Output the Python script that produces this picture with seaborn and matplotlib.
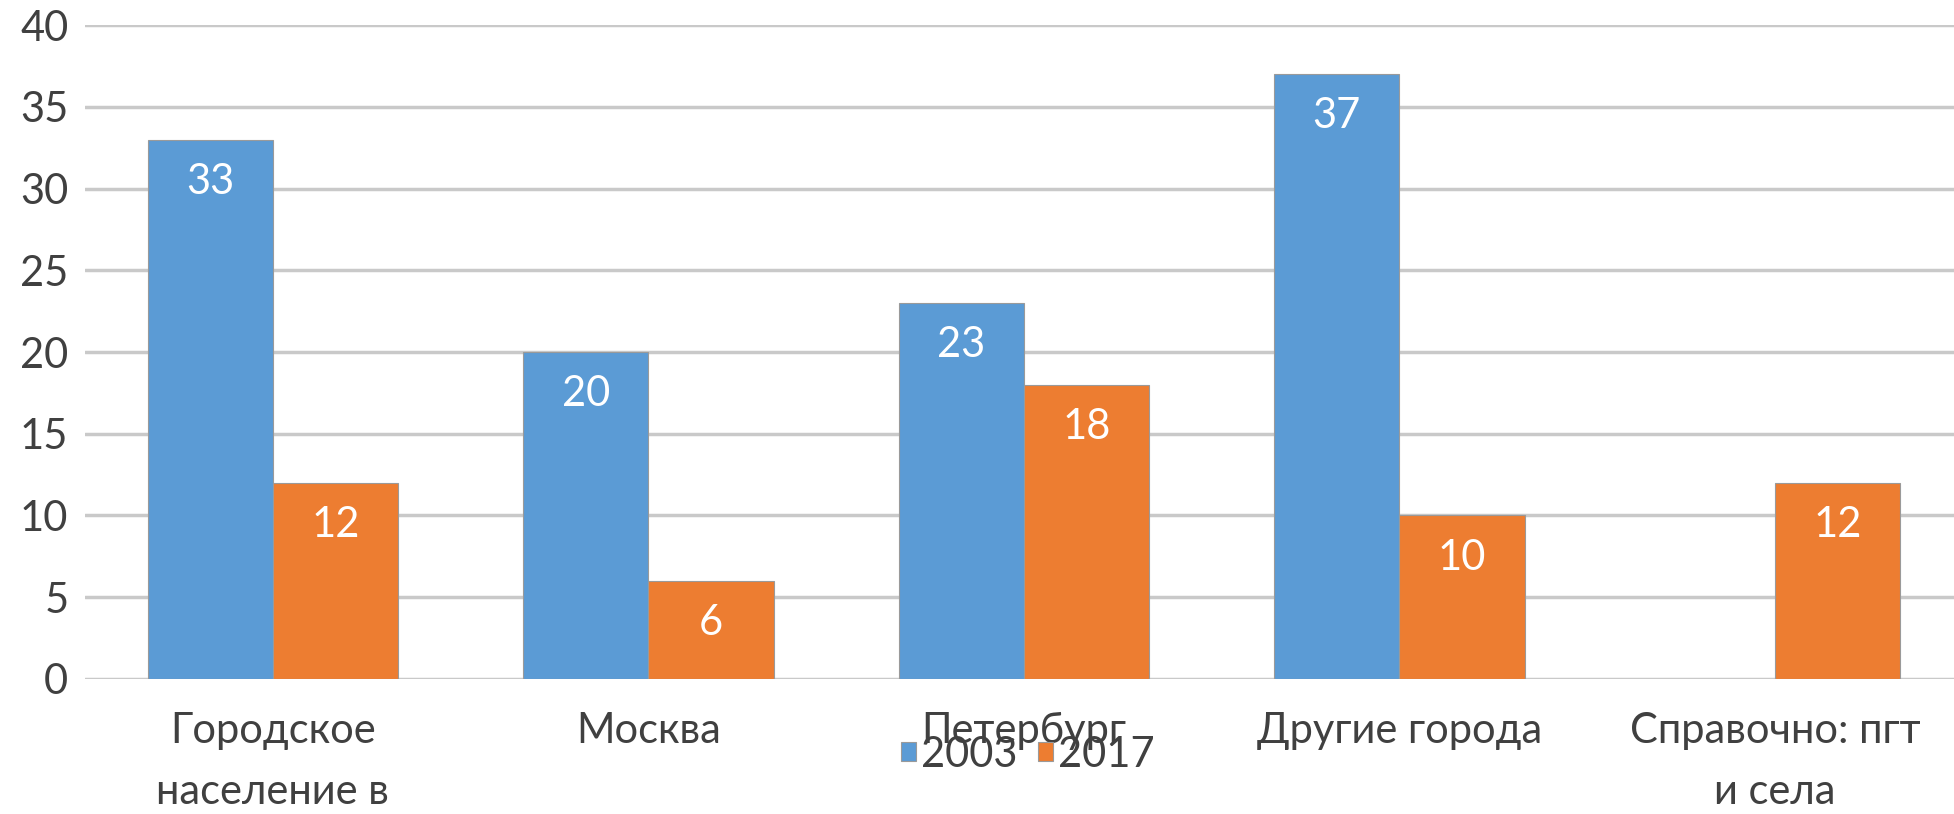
import matplotlib
matplotlib.use("Agg")
import matplotlib.pyplot as plt
import numpy as np
import pandas as pd
import seaborn as sns

# data
categories = ["Городское\nнаселение в", "Москва", "Петербург", "Другие города", "Справочно: пгт\nи села"]
years = ["2003", "2017"]
vals_2003 = [33, 20, 23, 37, np.nan]
vals_2017 = [12, 6, 18, 10, 12]
colors = ["#5B9BD5", "#ED7D31"]

df = pd.DataFrame({
    "cat": categories * 2,
    "year": [years[0]] * 5 + [years[1]] * 5,
    "val": vals_2003 + vals_2017,
})

sns.set_theme(style="white")
plt.rcParams["font.family"] = ["Lato", "DejaVu Sans"]
txt = "#404040"
fs = 30

fig = plt.figure(figsize=(19.54, 8.14), dpi=100)
ax = fig.add_axes([0.0435, 0.166, 0.961, 0.803])

sns.barplot(data=df, x="cat", y="val", hue="year", hue_order=years, order=categories,
            palette=colors, width=0.667, saturation=1, edgecolor="#9a9a9a", linewidth=0.8,
            errorbar=None, ax=ax, zorder=3)

ax.set_ylim(0, 40)
ax.set_yticks(range(0, 41, 5))
ax.set_xlim(-0.5, 4.5)
ax.yaxis.grid(True, color="#c9c9c9", linewidth=2.5, zorder=0)
ax.set_axisbelow(True)
for s in ax.spines.values():
    s.set_visible(False)
ax.set_xlabel("")
ax.set_ylabel("")
ax.tick_params(axis="both", length=0, labelsize=fs, labelcolor=txt)
ax.tick_params(axis="x", pad=24)
ax.tick_params(axis="y", pad=12)
for lab in ax.get_xticklabels():
    lab.set_linespacing(1.75)

# value labels inside the top of bars
for c in ax.containers:
    labels = ["" if np.isnan(v) else f"{v:.0f}" for v in c.datavalues]
    ax.bar_label(c, labels=labels, padding=-44, color="white", fontsize=fs)

# legend sits over the "Петербург" label, as in the original
sns.move_legend(ax, "center", bbox_to_anchor=(0.526, 0.073), bbox_transform=fig.transFigure,
                ncol=2, frameon=False, title=None, fontsize=fs, handlelength=0.35,
                handleheight=0.35, handletextpad=0.12, columnspacing=0.5, labelcolor=txt)

fig.savefig("out.png", dpi=100)
